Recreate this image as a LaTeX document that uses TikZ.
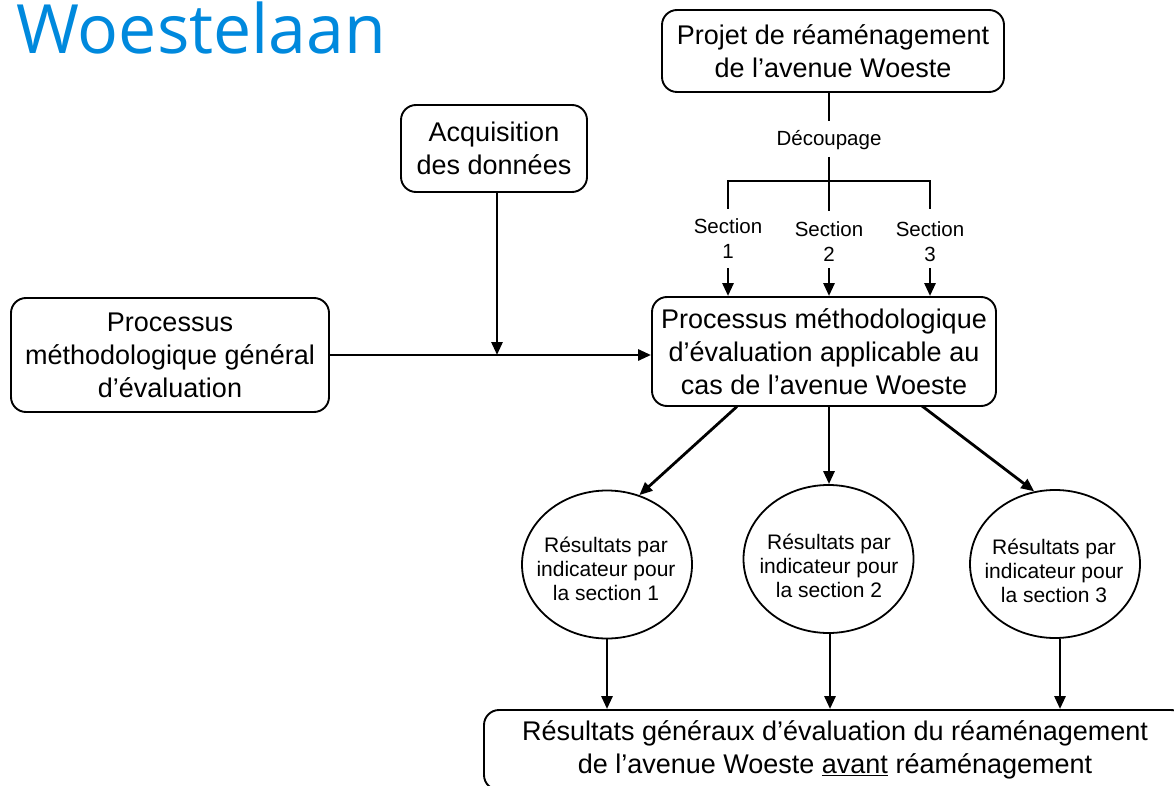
\documentclass[tikz,border=0pt]{standalone}
\usepackage{fontspec}
\setmainfont{Liberation Sans}
\newfontfamily\titlefont{Open Sans}
\usetikzlibrary{arrows.meta,shapes.geometric,calc}
\definecolor{titleblue}{RGB}{0,137,221}
\tikzset{
  box/.style={draw, line width=1.9pt, rounded corners=15pt, align=center, inner sep=0pt,
    font=\fontsize{27}{33}\selectfont},
  circ/.style={draw, ellipse, line width=1.8pt, inner sep=0pt,
    minimum width=170pt, minimum height=148pt},
  ctext/.style={align=center, inner sep=0pt, font=\fontsize{21}{24}\selectfont},
  lbl/.style={align=center, inner sep=0pt, font=\fontsize{20.5}{25}\selectfont},
  conn/.style={line width=2.8pt},
  arr/.style={line width=2.8pt, -{Triangle[length=13pt,width=11pt]}},
}
\begin{document}
\begin{tikzpicture}[x=1pt,y=-1pt]
\useasboundingbox (0,0) rectangle (1174,786);
\clip (0,0) rectangle (1174,786);
% title
\node[anchor=base west, inner sep=0pt, text=titleblue, font=\titlefont\fontsize{68}{72}\selectfont] (title) at (16,54) {Woestelaan};
% boxes
\node[box, minimum width=342pt, minimum height=82pt] (projet) at (833,51) {Projet de réaménagement\\de l’avenue Woeste};
\node[box, minimum width=186pt, minimum height=87pt] (acq) at (494,148.5) {Acquisition\\des données};
\node[box, minimum width=318pt, minimum height=114pt] (gen) at (170,355) {Processus\\méthodologique général\\d’évaluation};
\node[box, minimum width=344pt, minimum height=109pt] (central) at (824,351.5) {Processus méthodologique\\d’évaluation applicable au\\cas de l’avenue Woeste};
\node[box, minimum width=702pt, minimum height=80pt] (bottom) at (835,750) {Résultats généraux d’évaluation du réaménagement\\de l’avenue Woeste \underline{avant} réaménagement};
% découpage
\node[lbl] (decoup) at (829,140) {Découpage};
\coordinate (dtop) at (829,121);
\coordinate (dbot) at (829,157);
\coordinate (bl) at (728,181);
\coordinate (br) at (930,181);
\coordinate (bl2) at (728,209);
\coordinate (bm2) at (829,211);
\coordinate (br2) at (930,209);
\draw[conn] (projet.south -| dtop) -- (dtop);
\draw[conn] (dbot) -- (bm2);
\draw[conn] (bl2) -- (bl) -- (br) -- (br2);
% section labels
\node[lbl] (s1) at (728,239) {Section\\1};
\node[lbl] (s2) at (829,242) {Section\\2};
\node[lbl] (s3) at (930,242) {Section\\3};
\coordinate (a1) at (728,268);
\coordinate (a2) at (829,268);
\coordinate (a3) at (930,268);
\draw[arr] (a1) -- (a1 |- central.north);
\draw[arr] (a2) -- (a2 |- central.north);
\draw[arr] (a3) -- (a3 |- central.north);
% inputs
\draw[arr] (gen.east) -- (gen.east -| central.west);
\draw[arr] (acq.south -| 497,0) -- (497,355);
% circles
\node[circ] (c1) at (607,564.5) {};
\node[circ] (c2) at (828.5,559) {};
\node[circ] (c3) at (1055,564) {};
\node[ctext] (t1) at (606,569) {Résultats par\\indicateur pour\\la section 1};
\node[ctext] (t2) at (829,566) {Résultats par\\indicateur pour\\la section 2};
\node[ctext] (t3) at (1054,571) {Résultats par\\indicateur pour\\la section 3};
\coordinate (o1) at (737,406.5);
\coordinate (o2) at (829,406.5);
\coordinate (o3) at (922,406);
\draw[arr] (o1) -- (c1.65);
\draw[arr] (o2) -- (o2 |- c2.north);
\draw[arr] (o3) -- (c3.106);
% to bottom
\coordinate (b1) at (607,639);
\coordinate (b2) at (830,634);
\coordinate (b3) at (1060,639);
\draw[arr] (b1) -- (b1 |- bottom.north);
\draw[arr] (b2) -- (b2 |- bottom.north);
\draw[arr] (b3) -- (b3 |- bottom.north);
\end{tikzpicture}
\end{document}
